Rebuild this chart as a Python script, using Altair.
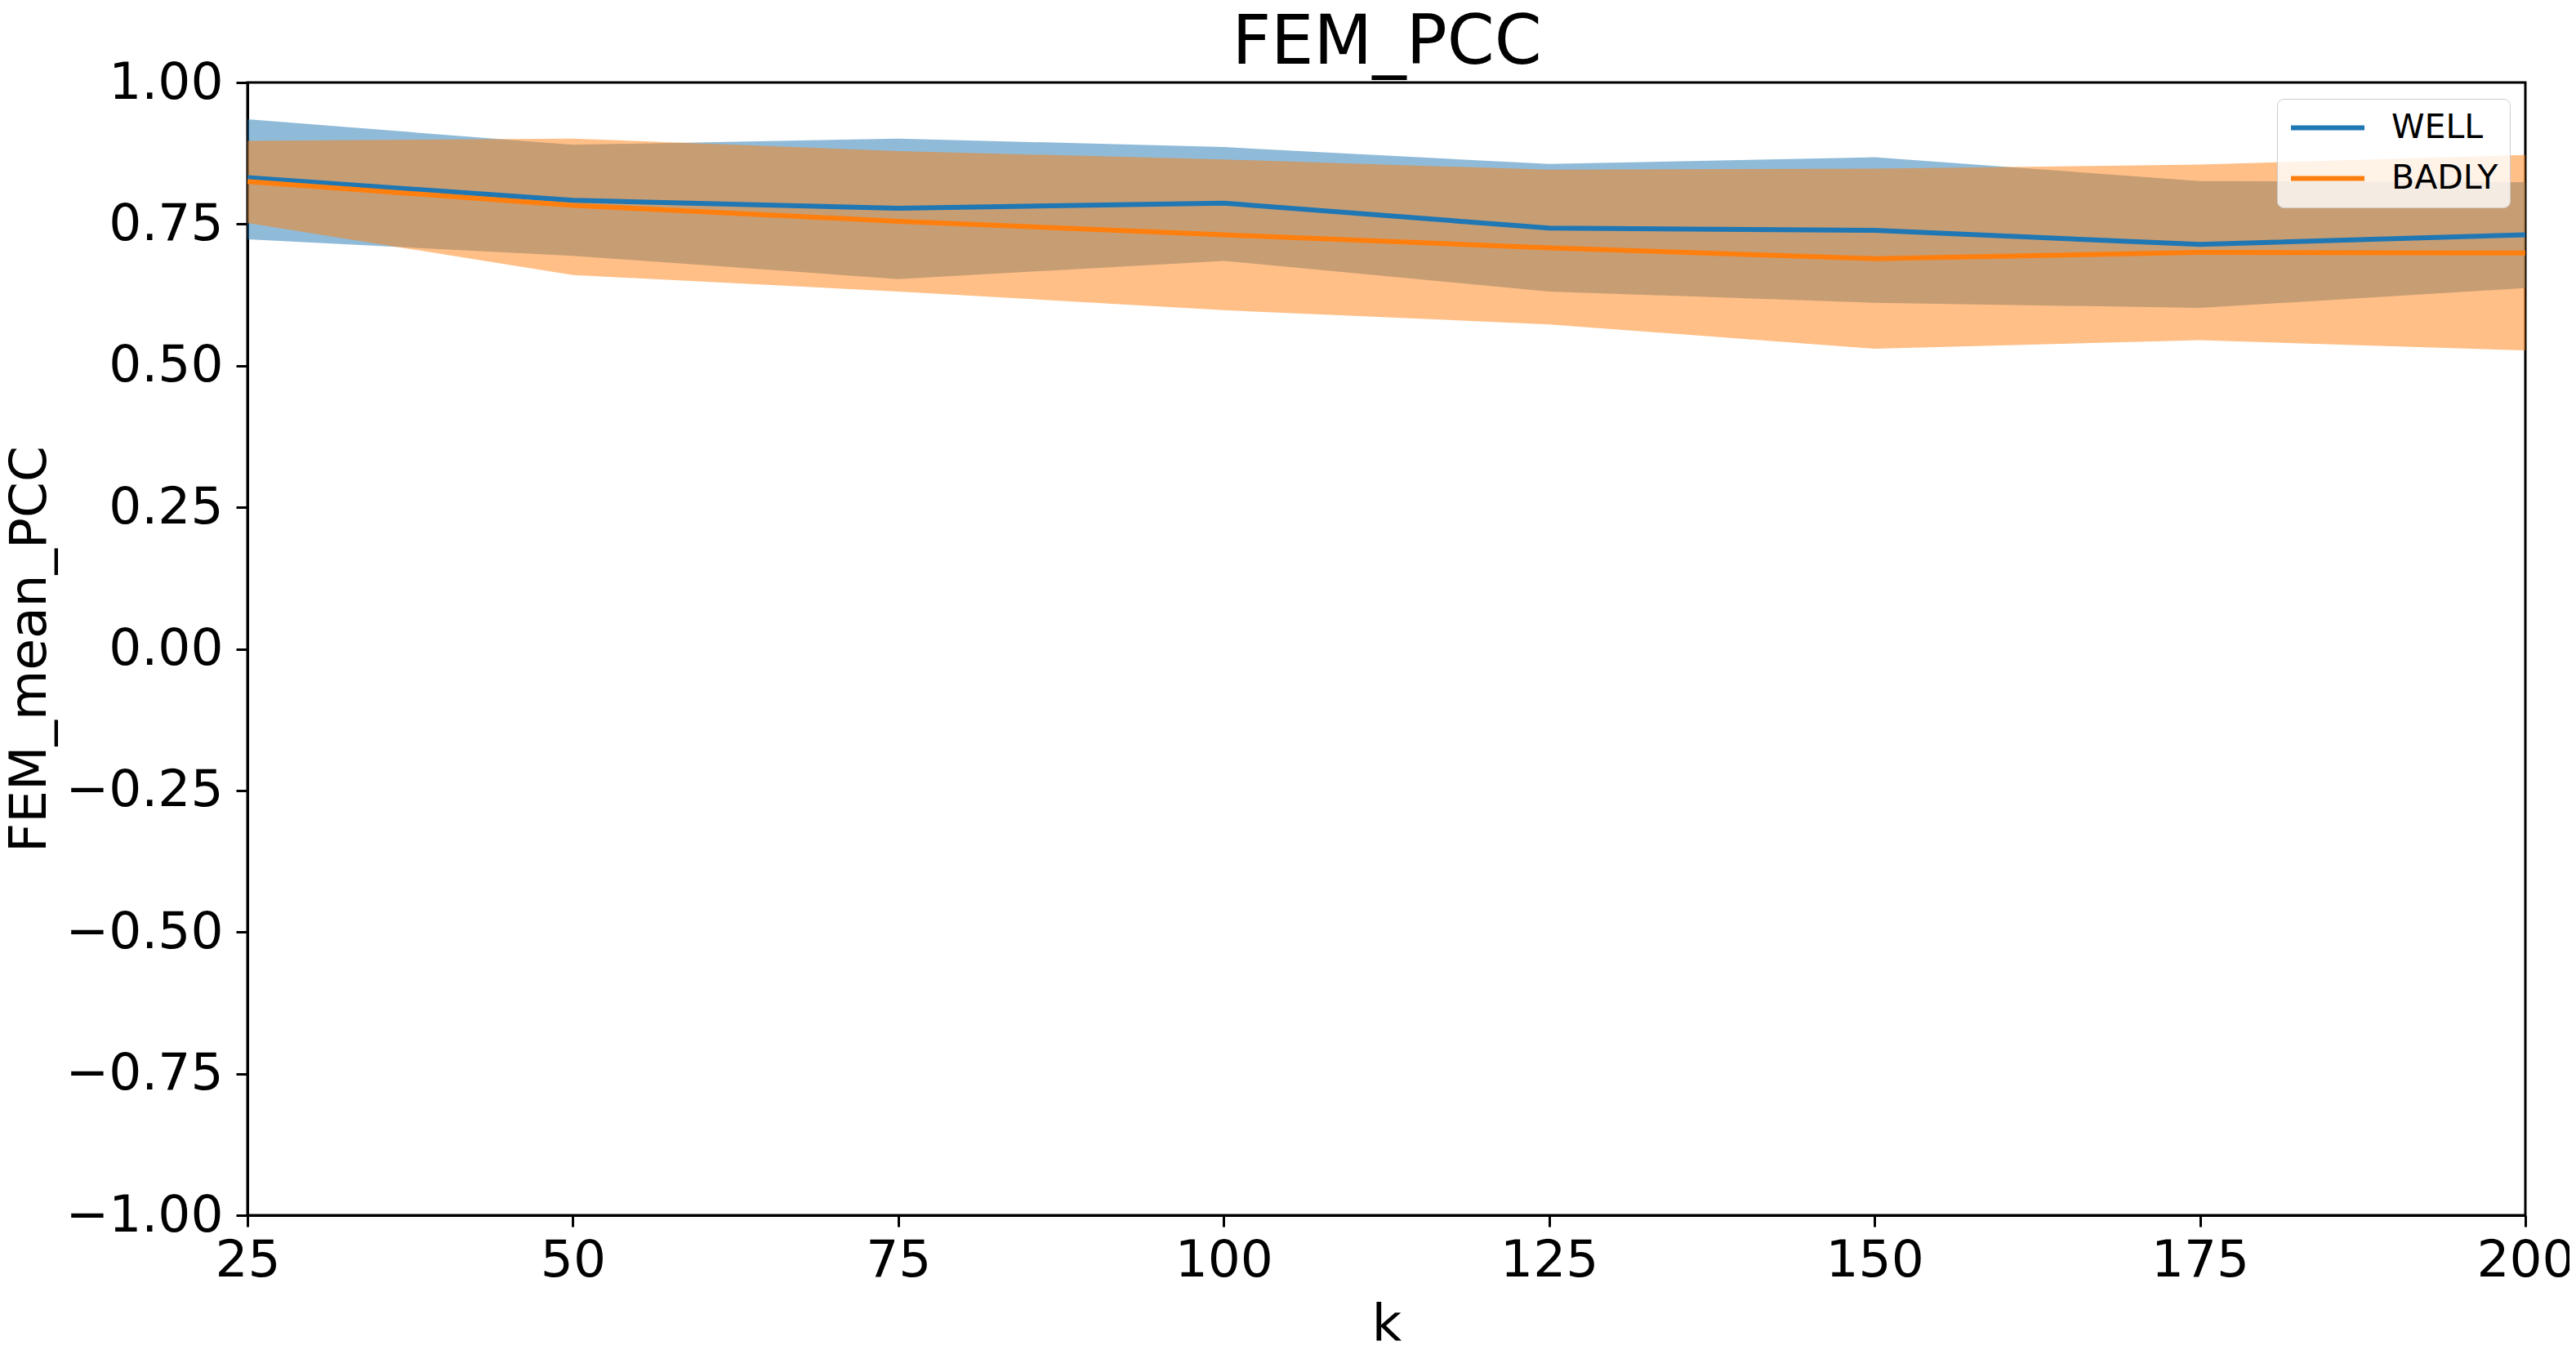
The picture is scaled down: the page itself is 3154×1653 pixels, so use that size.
import altair as alt
import pandas as pd

# ---- data ----
k = [25, 50, 75, 100, 125, 150, 175, 200]
well_mean = [0.832, 0.792, 0.778, 0.787, 0.743, 0.739, 0.714, 0.731]
well_upper = [0.935, 0.890, 0.901, 0.886, 0.856, 0.868, 0.826, 0.824]
well_lower = [0.723, 0.694, 0.653, 0.685, 0.631, 0.611, 0.602, 0.637]
badly_mean = [0.825, 0.783, 0.755, 0.731, 0.708, 0.689, 0.700, 0.699]
badly_upper = [0.897, 0.901, 0.879, 0.864, 0.846, 0.848, 0.855, 0.872]
badly_lower = [0.752, 0.660, 0.631, 0.598, 0.573, 0.530, 0.545, 0.527]
series_names = ["WELL", "BADLY"]
series_colors = ["#1f77b4", "#ff7f0e"]
x_ticks = [25, 50, 75, 100, 125, 150, 175, 200]
y_ticks = [-1.0, -0.75, -0.5, -0.25, 0.0, 0.25, 0.5, 0.75, 1.0]

rows = []
for name, m, lo, up in [("WELL", well_mean, well_lower, well_upper),
                        ("BADLY", badly_mean, badly_lower, badly_upper)]:
    for i, kv in enumerate(k):
        rows.append({"k": kv, "series": name, "mean": m[i], "lower": lo[i], "upper": up[i]})
df = pd.DataFrame(rows)

FONT = "DejaVu Sans"
PW, PH = 2789, 1387
TICK_FS = 63
TITLE_FS = 63

xs = alt.Scale(domain=[25, 200], nice=False, zero=False)
ys = alt.Scale(domain=[-1, 1], nice=False, zero=False)

x_axis = alt.Axis(values=x_ticks, format="d", title="k", grid=False, orient="bottom",
                  labelFontSize=TICK_FS, labelFont=FONT, labelColor="black", labelPadding=10,
                  labelFlush=False, labelLimit=500,
                  tickSize=14, tickWidth=3, tickColor="black",
                  domainWidth=3, domainColor="black",
                  titleFontSize=TITLE_FS, titleFont=FONT, titleFontWeight="normal", titleColor="black",
                  titleX=PW / 2, titleY=133, titleBaseline="middle", titleAlign="center")
# top axis only carries the chart title "FEM_PCC"
top_axis = alt.Axis(orient="top", title="FEM_PCC", labels=False, ticks=False, domain=False,
                    grid=False,
                    titleFontSize=83, titleFont=FONT, titleFontWeight="normal", titleColor="black",
                    titleX=PW / 2, titleY=-24, titleBaseline="alphabetic", titleAlign="center",
                    titleLimit=2000)
y_axis = alt.Axis(values=y_ticks, format=".2f", title="FEM_mean_PCC", grid=False,
                  labelFontSize=TICK_FS, labelFont=FONT, labelColor="black", labelPadding=16,
                  labelFlush=False, labelLimit=500,
                  tickSize=14, tickWidth=3, tickColor="black",
                  domainWidth=3, domainColor="black",
                  titleFontSize=TITLE_FS, titleFont=FONT, titleFontWeight="normal", titleColor="black",
                  titleX=-267, titleY=PH / 2, titleAngle=-90,
                  titleBaseline="middle", titleAlign="center", titleLimit=2000)

base = alt.Chart(df)

def band(name, color, xaxis):
    return base.transform_filter(alt.datum.series == name).mark_area(
        color=color, opacity=0.5
    ).encode(
        x=alt.X("k:Q", scale=xs, axis=xaxis),
        y=alt.Y("lower:Q", scale=ys, axis=y_axis),
        y2="upper:Q",
    )

area_well = band("WELL", series_colors[0], x_axis)
area_badly = band("BADLY", series_colors[1], top_axis)

lines = base.mark_line(strokeWidth=6).encode(
    x=alt.X("k:Q", scale=xs, axis=None),
    y=alt.Y("mean:Q", scale=ys, axis=y_axis),
    color=alt.Color("series:N",
                    scale=alt.Scale(domain=series_names, range=series_colors),
                    sort=series_names,
                    legend=alt.Legend(title=None, orient="none", legendX=2485, legendY=20,
                                      fillColor="rgba(255,255,255,0.8)", strokeColor="#cccccc",
                                      cornerRadius=8, padding=14,
                                      labelFont=FONT, labelFontSize=41, labelColor="black",
                                      symbolType="stroke", symbolSize=8100, symbolStrokeWidth=6,
                                      clipHeight=43, rowPadding=19, labelOffset=30)),
    order=alt.Order("k:Q"),
)

chart = alt.layer(area_well, area_badly, lines).resolve_axis(x="independent").properties(
    width=PW, height=PH,
    autosize=alt.AutoSizeParams(type="none"),
    padding={"left": 295, "top": 93, "right": 54, "bottom": 157},
).configure_view(stroke="black", strokeWidth=3)

chart.save("out.html", embed_options={"renderer": "svg", "actions": False})
